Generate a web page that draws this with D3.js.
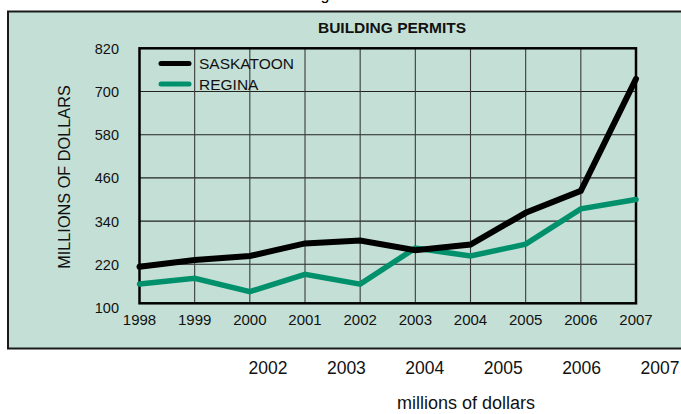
<!DOCTYPE html>
<html>
<head>
<meta charset="utf-8">
<script src="https://cdn.jsdelivr.net/npm/d3@7"></script>
<style>
  html, body { margin: 0; padding: 0; background: #ffffff; }
  svg { display: block; font-family: "Liberation Sans", Arial, sans-serif; }
</style>
</head>
<body>
<svg id="chart" width="681" height="414"></svg>
<script>
// ---- data ----
const years = [1998, 1999, 2000, 2001, 2002, 2003, 2004, 2005, 2006, 2007];
const saskatoon = [213, 232, 243, 278, 286, 259, 275, 363, 424, 735];
const regina = [165, 181, 144, 192, 165, 265, 243, 276, 374, 400];
const yTicks = [100, 220, 340, 460, 580, 700, 820];
const lowerYears = [2002, 2003, 2004, 2005, 2006, 2007];
const seriesNames = ["SASKATOON", "REGINA"];

// ---- layout ----
const svg = d3.select("#chart");
const plotLeft = 139.5, plotRight = 636, plotTop = 48.3, plotBottom = 303.3;
const x = d3.scaleLinear().domain([1998, 2007]).range([plotLeft, plotRight]);
const y = d3.scaleLinear().domain([100, 820]).range([307.5, plotTop]);
const xLower = d3.scaleLinear().domain([2002, 2007]).range([268, 660]);
const colors = { SASKATOON: "#000000", REGINA: "#00916c" };

// glyph of a heading above the frame (mostly outside the picture, as in the reference)
svg.append("text").attr("x", 325).attr("y", 0).attr("text-anchor", "middle")
  .attr("font-size", 16).attr("fill", "#000").text("g");

// outer panel
svg.append("rect").attr("x", 8).attr("y", 11.5).attr("width", 700).attr("height", 337)
  .attr("fill", "#c4e0d6").attr("stroke", "#1a1a1a").attr("stroke-width", 2);

// title
svg.append("text").attr("x", 392).attr("y", 32.5).attr("text-anchor", "middle")
  .attr("font-size", 15.5).attr("font-weight", "bold").attr("fill", "#111")
  .text("BUILDING PERMITS");

// gridlines
const g = svg.append("g");
g.selectAll("line.h").data(yTicks.filter(v => v > 100 && v < 820)).enter().append("line")
  .attr("x1", plotLeft).attr("x2", plotRight)
  .attr("y1", d => y(d)).attr("y2", d => y(d))
  .attr("stroke", "#222").attr("stroke-width", 1.1);
g.selectAll("line.v").data(years.slice(1, -1)).enter().append("line")
  .attr("x1", d => x(d)).attr("x2", d => x(d))
  .attr("y1", plotTop).attr("y2", plotBottom)
  .attr("stroke", "#3a3a3a").attr("stroke-width", 1.1);

// plot frame
svg.append("rect").attr("x", plotLeft).attr("y", plotTop)
  .attr("width", plotRight - plotLeft).attr("height", plotBottom - plotTop)
  .attr("fill", "none").attr("stroke", "#000").attr("stroke-width", 2.5);

// y tick labels
svg.selectAll("text.yt").data(yTicks).enter().append("text")
  .attr("x", 119).attr("y", d => y(d) + 5.5).attr("text-anchor", "end")
  .attr("font-size", 14.5).attr("fill", "#111").text(d => d);

// x tick labels
svg.selectAll("text.xt").data(years).enter().append("text")
  .attr("x", d => x(d)).attr("y", 325).attr("text-anchor", "middle")
  .attr("font-size", 15).attr("fill", "#111").text(d => d);

// y axis title
svg.append("text").attr("transform", "translate(70,177) rotate(-90)")
  .attr("text-anchor", "middle").attr("font-size", 16.3).attr("fill", "#111")
  .text("MILLIONS OF DOLLARS");

// lines
const line = d3.line().x((d, i) => x(years[i])).y(d => y(d));
svg.append("path").datum(regina).attr("d", line).attr("fill", "none")
  .attr("stroke", colors.REGINA).attr("stroke-width", 5.5)
  .attr("stroke-linecap", "round").attr("stroke-linejoin", "miter");
svg.append("path").datum(saskatoon).attr("d", line).attr("fill", "none")
  .attr("stroke", colors.SASKATOON).attr("stroke-width", 6)
  .attr("stroke-linecap", "round").attr("stroke-linejoin", "miter");

// legend
const leg = svg.append("g");
seriesNames.forEach((name, i) => {
  const ly = 63.5 + i * 20.5;
  leg.append("line").attr("x1", 161).attr("x2", 189).attr("y1", ly).attr("y2", ly)
    .attr("stroke", colors[name]).attr("stroke-width", 5).attr("stroke-linecap", "round");
  leg.append("text").attr("x", 199).attr("y", ly + 5.5).attr("font-size", 15.5)
    .attr("fill", "#111").text(name);
});

// lower labels below panel
svg.selectAll("text.lx").data(lowerYears).enter().append("text")
  .attr("x", d => xLower(d)).attr("y", 374).attr("text-anchor", "middle")
  .attr("font-size", 17.5).attr("fill", "#111").text(d => d);

svg.append("text").attr("x", 466).attr("y", 408.5).attr("text-anchor", "middle")
  .attr("font-size", 18).attr("fill", "#111").text("millions of dollars");
</script>
</body>
</html>
